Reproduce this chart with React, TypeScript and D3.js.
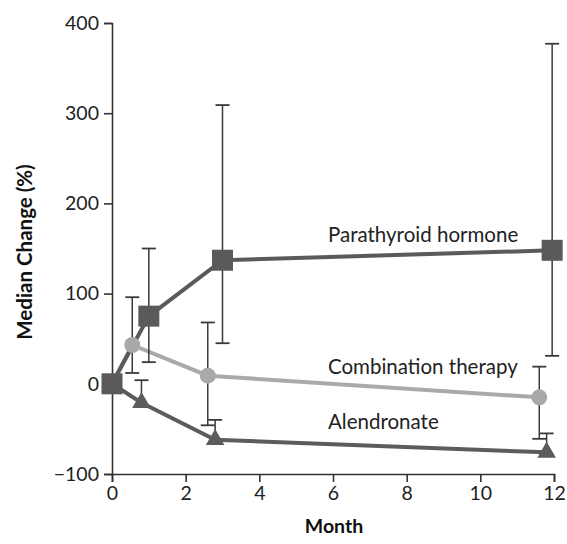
import React, { useEffect, useRef } from "react";
import * as d3 from "d3";

const xTicks = [0, 2, 4, 6, 8, 10, 12];
const yTicks = [-100, 0, 100, 200, 300, 400];

const pthMonths = [0, 1, 3, 11.95];
const pthValues = [0, 75, 137, 148];
const pthUpper = [null, 150, 309, 377];
const pthLower = [null, 24, 45, 31];

const comboMonths = [0, 0.55, 2.6, 11.6];
const comboValues = [0, 43, 9, -15];
const comboUpper = [null, 96, 68, 19];
const comboLower = [null, 12, -46, -61];

const alenMonths = [0, 0.8, 2.8, 11.8];
const alenValues = [0, -21, -62, -76];
const alenUpper = [null, 4, -40, -55];
const alenLower = [null, -24, -66, -79];

const labels = ["Parathyroid hormone", "Combination therapy", "Alendronate"];
const labelValues = [157, 11, -50];

const FONT = "Lato, 'Open Sans', sans-serif";

export default function App() {
  const ref = useRef<SVGSVGElement>(null);
  const W = 567, H = 544;
  const x = d3.scaleLinear().domain([0, 12]).range([112, 554]);
  const y = d3.scaleLinear().domain([-100, 400]).range([474, 23]);

  useEffect(() => {
    const svg = d3.select(ref.current);
    svg.selectAll("*").remove();

    const gx = svg.append("g").attr("transform", `translate(0,${y(-100)})`)
      .call(d3.axisBottom(x).tickValues(xTicks).tickSizeOuter(0).tickSize(8).tickPadding(4).tickFormat(d3.format("d")));
    const gy = svg.append("g").attr("transform", `translate(${x(0)},0)`)
      .call(d3.axisLeft(y).tickValues(yTicks).tickSizeOuter(0).tickSize(8).tickPadding(5).tickFormat((d: any) => (d < 0 ? "\u2212" + Math.abs(d) : String(d))));
    [gx, gy].forEach((g) => {
      g.selectAll("path").attr("stroke", "#333").attr("stroke-width", 1.6);
      g.selectAll("line").attr("stroke", "#333").attr("stroke-width", 1.6);
      g.selectAll("text").attr("fill", "#222").attr("font-size", 19.5).attr("font-family", FONT);
    });

    const series = [
      { m: comboMonths, v: comboValues, u: comboUpper, l: comboLower, color: "#a9a9a9", shape: "circle" },
      { m: alenMonths, v: alenValues, u: alenUpper, l: alenLower, color: "#5c5c5c", shape: "triangle" },
      { m: pthMonths, v: pthValues, u: pthUpper, l: pthLower, color: "#5a5a5a", shape: "square" },
    ];

    // lines
    series.forEach((s) => {
      const pts: [number, number][] = s.m.map((mm, i) => [x(mm), y(s.v[i])]);
      svg.append("path").attr("d", d3.line()(pts)).attr("fill", "none")
        .attr("stroke", s.color).attr("stroke-width", 4);
    });
    // error bars
    series.forEach((s) => {
      s.m.forEach((mm, i) => {
        const cx = x(mm);
        [s.u[i], s.l[i]].forEach((e) => {
          if (e == null) return;
          svg.append("line").attr("x1", cx).attr("x2", cx).attr("y1", y(s.v[i])).attr("y2", y(e))
            .attr("stroke", "#3a3a3a").attr("stroke-width", 1.5);
          svg.append("line").attr("x1", cx - 7).attr("x2", cx + 7).attr("y1", y(e)).attr("y2", y(e))
            .attr("stroke", "#3a3a3a").attr("stroke-width", 1.8);
        });
      });
    });
    // markers
    series.forEach((s) => {
      s.m.forEach((mm, i) => {
        const cx = x(mm), cy = y(s.v[i]);
        if (i === 0 && s.shape !== "square") return;
        if (s.shape === "square") {
          svg.append("rect").attr("x", cx - 10.5).attr("y", cy - 10.5).attr("width", 21).attr("height", 21)
            .attr("fill", s.color);
        } else if (s.shape === "circle") {
          svg.append("circle").attr("cx", cx).attr("cy", cy).attr("r", 8).attr("fill", s.color);
        } else {
          svg.append("path").attr("d", d3.symbol(d3.symbolTriangle, 150)())
            .attr("transform", `translate(${cx},${cy})`).attr("fill", s.color);
        }
      });
    });
  }, []);

  return (
    <svg width={W} height={H} style={{ position: "absolute", left: 0, top: 0, background: "#fff" }}>
      <g ref={ref as any} />
      {labels.map((t, i) => (
        <text key={t} x={328} y={y(labelValues[i])} fontSize={20.5} fontFamily={FONT} fill="#222">{t}</text>
      ))}
      <text transform={`translate(32,252) rotate(-90)`} textAnchor="middle" fontSize={20.5} fontWeight="bold" fontFamily={FONT} fill="#111">Median Change (%)</text>
      <text x={334} y={533} textAnchor="middle" fontSize={19.5} fontWeight="bold" fontFamily={FONT} fill="#111">Month</text>
    </svg>
  );
}
